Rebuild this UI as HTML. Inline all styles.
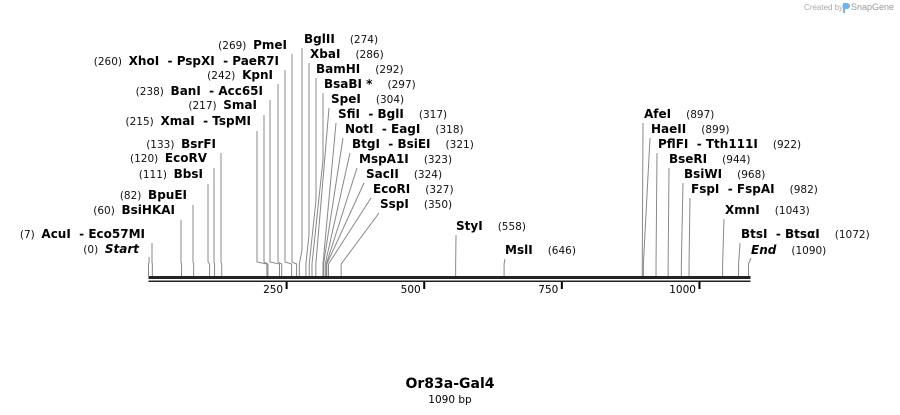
<!DOCTYPE html>
<html><head><meta charset="utf-8"><style>
html,body{margin:0;padding:0;background:#fff;}
svg{display:block;font-family:"DejaVu Sans","Liberation Sans",sans-serif;}
.n{font-weight:bold;font-size:12px;fill:#000;}
.p{font-size:10.5px;fill:#111;}
</style></head><body>
<svg id="map" width="900" height="415" viewBox="0 0 900 415" xmlns="http://www.w3.org/2000/svg">
<text x="804" y="10" font-size="8" fill="#aaa" font-family="Liberation Sans, sans-serif">Created by</text>
<path d="M843 3 h4 a3 3 0 0 1 0 6 h-2 v4 h-2z" fill="#6fb3e8"/>
<text x="851" y="10" font-size="9" fill="#999" font-family="Liberation Sans, sans-serif">SnapGene</text>
<g id="sites"></g>
<g id="axis"></g>
<text x="450" y="388" text-anchor="middle" font-weight="bold" font-size="14">Or83a-Gal4</text>
<text x="450" y="403" text-anchor="middle" font-size="10.5">1090 bp</text>
</svg>
<script>
const seqLength = 1090;
const tickValues = [250, 500, 750, 1000];
const siteNames = ["Start","AcuI  - Eco57MI","BsiHKAI","BpuEI","BbsI","EcoRV","BsrFI","XmaI  - TspMI","SmaI","BanI  - Acc65I","KpnI","XhoI  - PspXI  - PaeR7I","PmeI","BglII","XbaI","BamHI","BsaBI *","SpeI","SfiI  - BglI","NotI  - EagI","BtgI  - BsiEI","MspA1I","SacII","EcoRI","SspI","StyI","MslI","AfeI","HaeII","PflFI  - Tth111I","BseRI","BsiWI","FspI  - FspAI","XmnI","BtsI  - BtsαI","End"];
const sitePositions = [0,7,60,82,111,120,133,215,217,238,242,260,269,274,286,292,297,304,317,318,321,323,324,327,350,558,646,897,899,922,944,968,982,1043,1072,1090];
// label layout: [side, textX, baselineY, lineX, lineTopY, bendY]
const labelLayout = [
 ["L",139,253,149,257,262],["L",145,238,152,243,262],["L",175,214,181,220,262],["L",187,199,193,205,262],
 ["L",203,178,208,184,262],["L",207,162,214,168,262],["L",216,148,221,153,262],["L",251,125,257,131,262],
 ["L",257,109,264,115,262],["L",263,95,270,100,262],["L",273,79,278,84,262],["L",279,65,285,70,262],
 ["L",287,49,292,54,262],
 ["R",304,43,302,48,250],["R",310,58,309,63,235],["R",316,73,316,78,200],["R",324,88,323,93,160],
 ["R",331,103,329,108,108],["R",338,118,336,123,123],["R",345,133,343,138,138],["R",352,148,350,153,153],
 ["R",359,163,357,168,168],["R",366,178,364,183,183],["R",373,193,371,198,198],["R",380,208,379,213,213],
 ["R",456,230,456,235,235],["R",505,254,505,259,259],
 ["R",644,118,643,123,123],["R",651,133,650,138,138],["R",658,148,657,153,153],["R",669,163,669,168,168],
 ["R",684,178,683,183,183],["R",691,193,690,198,198],["R",725,214,724,219,219],["R",741,238,740,243,243],["R",751,254,751,258,258]
];
const NS="http://www.w3.org/2000/svg";
const x0=148.5, x1=748.5;
function xScale(bp){return x0+(x1-x0)*bp/seqLength;}
function mk(tag,attrs,parent){const e=document.createElementNS(NS,tag);for(const k in attrs)e.setAttribute(k,attrs[k]);parent.appendChild(e);return e;}
const axis=document.getElementById('axis');
const bb1=mk('rect',{x:x0,y:276,width:xScale(seqLength)-x0+2,height:3,fill:'#222'},axis);


const bb2=mk('rect',{x:x0,y:280.5,width:xScale(seqLength)-x0+2,height:1.5,fill:'#222'},axis);


tickValues.forEach(t=>{
  const x=xScale(t);
  const tk=mk('rect',{x:x-0.5,y:282,width:2,height:7,fill:'#000'},axis);
  
  
  const tl=mk('text',{x:x-3,y:293,'text-anchor':'end','font-size':'10.5'},axis);
  tl.textContent=t;
  
  
});
const sites=document.getElementById('sites');
siteNames.forEach((name,i)=>{
  const bp=sitePositions[i];const L=labelLayout[i];
  const sx=xScale(bp);
  const g=mk('g',{},sites);
  
  
  const stubTop=Math.max(264,Math.min(L[5]+2,266));
  const bend=Math.min(L[5],stubTop);
  const pl=mk('polyline',{points:`${L[3]},${L[4]} ${L[3]},${bend} ${sx},${stubTop} ${sx},276`,fill:'none',stroke:'#888','stroke-width':1},g);
  
  
  const t=mk('text',{x:L[1],y:L[2],'text-anchor':L[0]==='L'?'end':'start'},g);
  
  
  const num='('+bp+')';
  const italic=(name==='Start'||name==='End');
  const a=document.createElementNS(NS,'tspan');const b=document.createElementNS(NS,'tspan');
  if(L[0]==='L'){a.setAttribute('class','p');a.textContent=num+'  ';b.setAttribute('class','n');b.textContent=name;}
  else{a.setAttribute('class','n');a.textContent=name+'  ';b.setAttribute('class','p');b.textContent='  '+num;}
  const nameSpan=L[0]==='L'?b:a;
  if(italic)nameSpan.setAttribute('font-style','italic');
  t.setAttribute('xml:space','preserve');t.style.whiteSpace='pre';
  t.appendChild(a);t.appendChild(b);
});
</script>
</body></html>
